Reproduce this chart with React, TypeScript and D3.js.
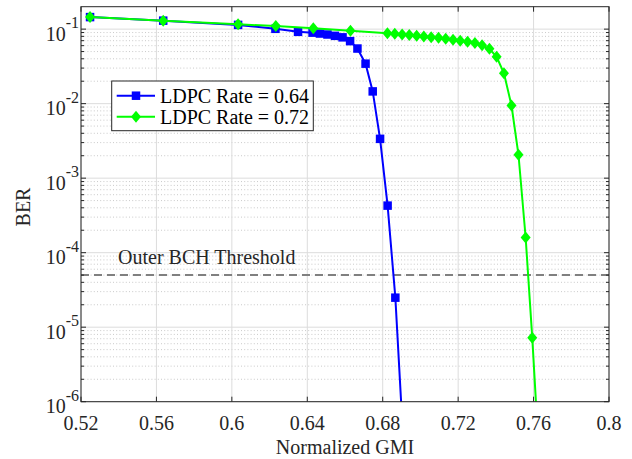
import React from 'react';
import * as d3 from 'd3';

const gmiRate064 = [0.5248, 0.5636, 0.6033, 0.6231, 0.6351, 0.6428, 0.6467, 0.6507, 0.6547, 0.6587, 0.6627, 0.6666, 0.6709, 0.6747, 0.6786, 0.6826, 0.6867, 0.6907];
const berRate064 = [0.145, 0.130, 0.114, 0.101, 0.092, 0.0897, 0.0873, 0.0847, 0.0813, 0.0776, 0.069, 0.0549, 0.0344, 0.0146, 0.00337, 4.28e-4, 2.49e-5, 3.7e-7];

const gmiRate072 = [0.5248, 0.5636, 0.6033, 0.6233, 0.6432, 0.6629, 0.6825, 0.6864, 0.6903, 0.6941, 0.6980, 0.7018, 0.7057, 0.7096, 0.7134, 0.7173, 0.7211, 0.7250, 0.7289, 0.7327, 0.7366, 0.7404, 0.7443, 0.7483, 0.7520, 0.7558, 0.7593, 0.7630];
const berRate072 = [0.145, 0.130, 0.116, 0.110, 0.103, 0.095, 0.0878, 0.0865, 0.0846, 0.0831, 0.0813, 0.0796, 0.0781, 0.0764, 0.0741, 0.0718, 0.0696, 0.0675, 0.0649, 0.0606, 0.0545, 0.0425, 0.0255, 0.00943, 0.00206, 1.6e-4, 7.24e-6, 1.7e-7];

const xTicks = [0.52, 0.56, 0.6, 0.64, 0.68, 0.72, 0.76, 0.8];
const xTickLabels = ['0.52', '0.56', '0.6', '0.64', '0.68', '0.72', '0.76', '0.8'];
const yExponents = [-1, -2, -3, -4, -5, -6];
const bchThreshold = 5e-5;
const seriesNames = ['LDPC Rate = 0.64', 'LDPC Rate = 0.72'];
const thresholdLabel = 'Outer BCH Threshold';
const xLabel = 'Normalized GMI';
const yLabel = 'BER';

const FONT = "'Liberation Serif', 'Times New Roman', serif";
const BLUE = '#0000ff';
const GREEN = '#00ff00';
const AXIS = '#262626';

function diamond(cx: number, cy: number, hw = 5, hh = 6) {
  return `M${cx},${cy - hh}L${cx + hw},${cy}L${cx},${cy + hh}L${cx - hw},${cy}Z`;
}

export default function App() {
  const L = 81, R = 609, T = 6.7, B = 401.7;
  const x = d3.scaleLinear().domain([0.52, 0.8]).range([L, R]);
  const y = d3.scaleLog().domain([1e-6, 0.2]).range([B, T]);

  const line = d3.line<[number, number]>().x(d => x(d[0])).y(d => y(d[1]));
  const s064: [number, number][] = gmiRate064.map((g, i) => [g, berRate064[i]]);
  const s072: [number, number][] = gmiRate072.map((g, i) => [g, berRate072[i]]);

  const minorVals: number[] = [];
  for (let e = -6; e <= -2; e++) for (let m = 2; m <= 9; m++) minorVals.push(m * Math.pow(10, e));

  const sq = 8.5;

  return (
    <svg width={632} height={459} style={{ position: 'absolute', left: 0, top: 0, background: '#fff' }} fontFamily={FONT}>
      <defs>
        <clipPath id="plotClip">
          <rect x={L} y={T} width={R - L} height={B - T} />
        </clipPath>
      </defs>
      <rect x={0} y={0} width={632} height={459} fill="#fff" />
      <rect x={L} y={T} width={R - L} height={B - T} fill="#fff" />
      {/* minor grid */}
      {minorVals.map((v, i) => (
        <line key={'mg' + i} x1={L} x2={R} y1={y(v)} y2={y(v)} stroke="#bdbdbd" strokeWidth={0.8} strokeDasharray="1,2.2" />
      ))}
      {/* major grid */}
      {yExponents.map(e => (
        <line key={'yg' + e} x1={L} x2={R} y1={y(Math.pow(10, e))} y2={y(Math.pow(10, e))} stroke="#dcdcdc" strokeWidth={1} />
      ))}
      {xTicks.map((t, i) => (
        <line key={'xg' + i} x1={x(t)} x2={x(t)} y1={T} y2={B} stroke="#dcdcdc" strokeWidth={1} />
      ))}
      {/* threshold */}
      <line x1={L} x2={R} y1={y(bchThreshold)} y2={y(bchThreshold)} stroke="#808080" strokeWidth={2} strokeDasharray="8,5" />
      <text x={118} y={y(bchThreshold) - 11} fontSize={20} fill="#262626">{thresholdLabel}</text>

      {/* series */}
      <g clipPath="url(#plotClip)">
        <path d={line(s064) || ''} fill="none" stroke={BLUE} strokeWidth={2} />
        {s064.map((d, i) => (
          <rect key={'b' + i} x={x(d[0]) - sq / 2} y={y(d[1]) - sq / 2} width={sq} height={sq} fill={BLUE} />
        ))}
        <path d={line(s072) || ''} fill="none" stroke={GREEN} strokeWidth={2} />
        {s072.map((d, i) => (
          <path key={'g' + i} d={diamond(x(d[0]), y(d[1]))} fill={GREEN} />
        ))}
      </g>

      {/* axes box */}
      <rect x={L} y={T} width={R - L} height={B - T} fill="none" stroke={AXIS} strokeWidth={1} />
      {/* x ticks */}
      {xTicks.map((t, i) => (
        <g key={'xt' + i}>
          <line x1={x(t)} x2={x(t)} y1={B} y2={B - 5} stroke={AXIS} />
          <line x1={x(t)} x2={x(t)} y1={T} y2={T + 5} stroke={AXIS} />
          <text x={x(t)} y={430} textAnchor="middle" fontSize={20} fill="#262626">{xTickLabels[i]}</text>
        </g>
      ))}
      {/* y ticks */}
      {yExponents.map(e => {
        const yy = y(Math.pow(10, e));
        return (
          <g key={'yt' + e}>
            <line x1={L} x2={L + 5} y1={yy} y2={yy} stroke={AXIS} />
            <line x1={R} x2={R - 5} y1={yy} y2={yy} stroke={AXIS} />
            <text x={79} y={yy + 11.5} textAnchor="end" fontSize={20} fill="#262626">
              <tspan>10</tspan>
              <tspan fontSize={16} dy={-12.5}>{'-' + Math.abs(e)}</tspan>
            </text>
          </g>
        );
      })}
      {minorVals.map((v, i) => (
        <g key={'mt' + i}>
          <line x1={L} x2={L + 3} y1={y(v)} y2={y(v)} stroke={AXIS} />
          <line x1={R} x2={R - 3} y1={y(v)} y2={y(v)} stroke={AXIS} />
        </g>
      ))}

      {/* axis labels */}
      <text x={(L + R) / 2} y={454} textAnchor="middle" fontSize={20} fill="#262626">{xLabel}</text>
      <text transform={`translate(30,207) rotate(-90)`} textAnchor="middle" fontSize={20} fill="#262626">{yLabel}</text>

      {/* legend */}
      <g>
        <rect x={111.7} y={81} width={201.6} height={49.7} fill="#fff" stroke={AXIS} strokeWidth={1} />
        <line x1={116.7} x2={155} y1={95.7} y2={95.7} stroke={BLUE} strokeWidth={2} />
        <rect x={136 - sq / 2} y={95.7 - sq / 2} width={sq} height={sq} fill={BLUE} />
        <text x={160} y={95.7} dominantBaseline="central" fontSize={20} fill="#000">{seriesNames[0]}</text>
        <line x1={116.7} x2={155} y1={116.7} y2={116.7} stroke={GREEN} strokeWidth={2} />
        <path d={diamond(136, 116.7)} fill={GREEN} />
        <text x={160} y={116.7} dominantBaseline="central" fontSize={20} fill="#000">{seriesNames[1]}</text>
      </g>
    </svg>
  );
}
